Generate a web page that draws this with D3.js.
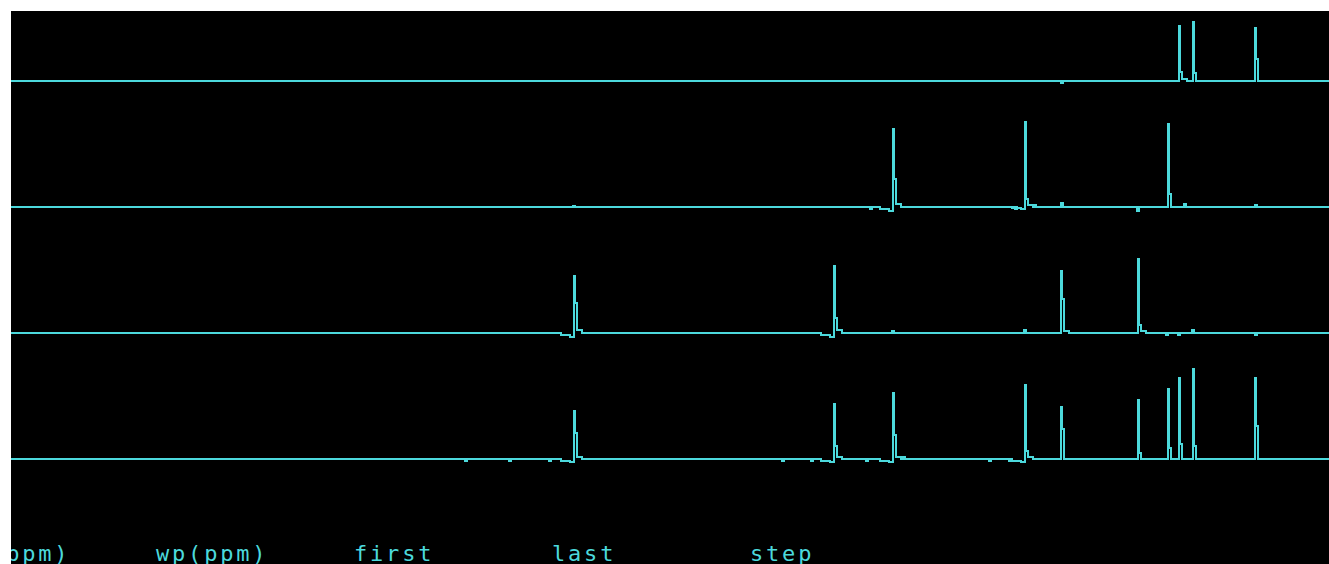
<!DOCTYPE html>
<html>
<head>
<meta charset="utf-8">
<script src="https://cdn.jsdelivr.net/npm/d3@7/dist/d3.min.js"></script>
<style>
  html, body { margin: 0; padding: 0; background: #ffffff; }
  svg { display: block; }
</style>
</head>
<body>
<script>
// ---- data (chemical shift in ppm, intensity in arbitrary units) ----
// each peak: [ppm, height, shoulder, tail, dip]
const spectrum1Peaks = [
  [1.503, 55, 9, 2, 0],
  [1.357, 59, 8, 0, 0],
  [0.737, 53, 22, 0, 0]
];
const spectrum1Small = [[2.67, -2]];

const spectrum2Peaks = [
  [4.363, 78, 28, 3, 4],
  [3.045, 85, 8, 2, 2],
  [1.615, 83, 13, 0, 0]
];
const spectrum2Small = [[7.55, 1], [4.58, -2], [3.13, -2], [2.94, 2], [2.67, 4], [1.91, -4], [1.44, 3], [0.73, 2]];

const spectrum3Peaks = [
  [7.55, 57, 30, 3, 4],
  [4.95, 67, 15, 3, 4],
  [2.677, 62, 34, 2, 0],
  [1.907, 74, 8, 2, 0]
];
const spectrum3Small = [[4.36, 2], [3.04, 3], [1.62, -2], [1.50, -2], [1.36, 3], [0.73, -2]];

const spectrum4Peaks = [
  [7.55, 48, 26, 2, 3],
  [4.95, 55, 13, 2, 3],
  [4.363, 66, 24, 2, 3],
  [3.045, 74, 8, 2, 3],
  [2.677, 52, 30, 0, 0],
  [1.907, 59, 6, 0, 0],
  [1.615, 70, 11, 0, 0],
  [1.503, 81, 15, 0, 0],
  [1.357, 90, 13, 0, 0],
  [0.737, 81, 33, 0, 0]
];
const spectrum4Small = [[8.63, -2], [8.19, -2], [7.79, -2], [5.46, -2], [5.17, -2], [4.62, -2], [4.25, 2], [3.39, -2], [3.19, -2]];

const ppmRange = [13.18, 0];
const footerLabels = ["sp(ppm)", "wp(ppm)", "first", "last", "step"];

const spectra = [
  { peaks: spectrum1Peaks, small: spectrum1Small },
  { peaks: spectrum2Peaks, small: spectrum2Small },
  { peaks: spectrum3Peaks, small: spectrum3Small },
  { peaks: spectrum4Peaks, small: spectrum4Small }
];

// ---- layout ----
const W = 1329, H = 564;
const color = "#4cd9dc";
const svg = d3.select("body").append("svg").attr("width", W).attr("height", H);

svg.append("rect").attr("x", 11).attr("y", 11).attr("width", W - 11).attr("height", H - 11).attr("fill", "#000");

const x = d3.scaleLinear().domain(ppmRange).range([11, 1329]);
const y = d3.scaleLinear().domain([0, 100]).range([0, -100]);
const rowY = d3.scaleLinear().domain([0, 3]).range([81, 459]);
const d = 0.01; // one digital point width in ppm

function buildTrace(spec) {
  const events = [];
  spec.peaks.forEach(p => events.push({ type: "peak", v: p, ppm: p[0] }));
  spec.small.forEach(s => events.push({ type: "small", v: s, ppm: s[0] }));
  events.sort((a, b) => b.ppm - a.ppm);
  const pts = [[ppmRange[0], 0]];
  events.forEach(e => {
    if (e.type === "peak") {
      const [p, h, s, t, dip] = e.v;
      if (dip) {
        pts.push([p + 13 * d, 0], [p + 13 * d, -dip / 2], [p + 4 * d, -dip / 2], [p + 4 * d, -dip], [p, -dip]);
      } else {
        pts.push([p, 0]);
      }
      pts.push([p, h], [p - d, h], [p - d, s], [p - 3 * d, s]);
      if (t) {
        pts.push([p - 3 * d, t], [p - 8 * d, t], [p - 8 * d, 0]);
      } else {
        pts.push([p - 3 * d, 0]);
      }
    } else {
      const [q, v] = e.v;
      pts.push([q + d, 0], [q + d, v], [q - d, v], [q - d, 0]);
    }
  });
  pts.push([ppmRange[1], 0]);
  return pts;
}

spectra.forEach((spec, i) => {
  const base = Math.round(rowY(i));
  const line = d3.line()
    .x(p => Math.round(x(p[0])))
    .y(p => base + Math.round(y(p[1])));
  svg.append("path")
    .attr("d", line(buildTrace(spec)))
    .attr("fill", "none")
    .attr("stroke", color)
    .attr("stroke-width", 2)
    .attr("shape-rendering", "crispEdges");
});

// ---- footer parameter labels ----
svg.append("clipPath").attr("id", "clip").append("rect")
  .attr("x", 11).attr("y", 11).attr("width", W - 11).attr("height", H - 11);
const lx = d3.scaleLinear().domain([0, footerLabels.length - 1]).range([-42, 750]);
svg.append("g").attr("clip-path", "url(#clip)")
  .selectAll("text").data(footerLabels).join("text")
  .attr("x", (dd, i) => lx(i))
  .attr("y", 561)
  .attr("fill", color)
  .attr("font-family", "DejaVu Sans Mono, monospace")
  .attr("font-size", 22)
  .attr("letter-spacing", 2.8)
  .text(dd => dd);
</script>
</body>
</html>
